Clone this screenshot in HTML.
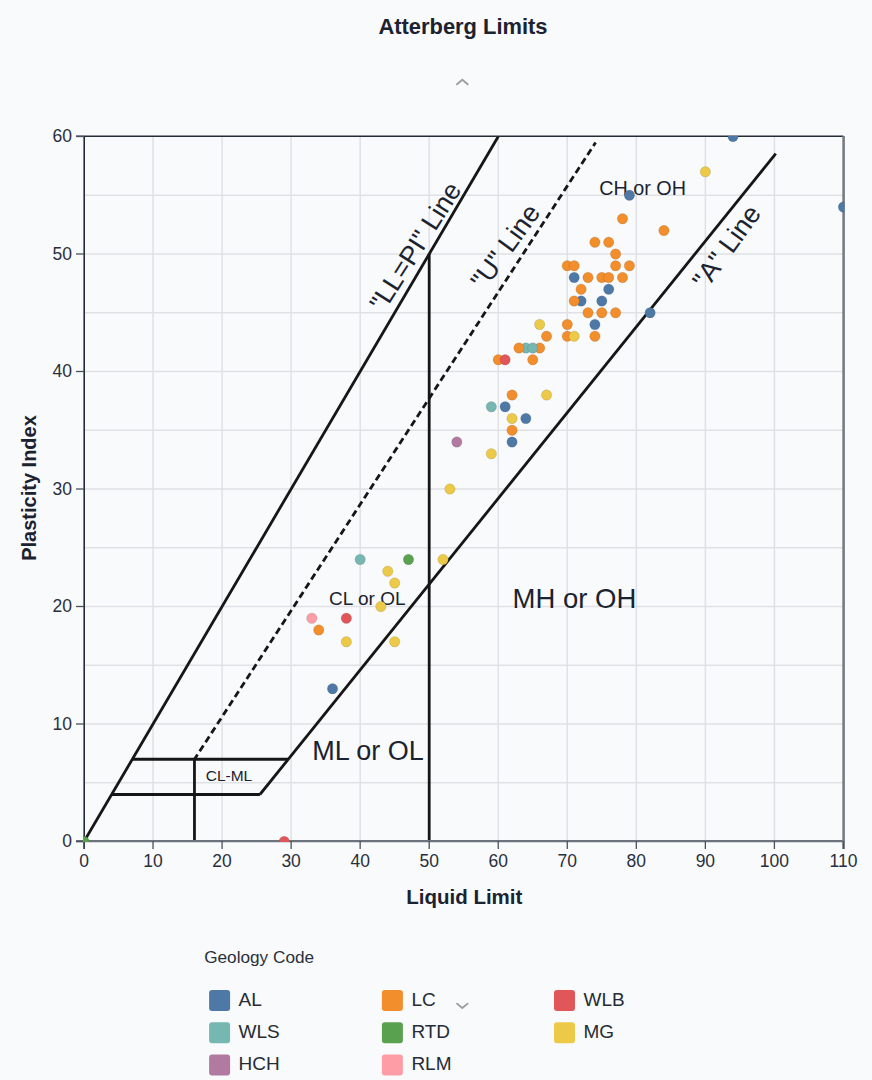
<!DOCTYPE html>
<html><head><meta charset="utf-8"><style>
html,body{margin:0;padding:0;background:#f8fafc;}
body{width:872px;height:1080px;overflow:hidden;}
svg{display:block;}
text{font-family:"Liberation Sans",sans-serif;}
</style></head><body>
<svg width="872" height="1080" viewBox="0 0 872 1080">
<g stroke="#e0e1e5" stroke-width="1.5"><line x1="153.04" y1="136" x2="153.04" y2="841"/><line x1="222.08" y1="136" x2="222.08" y2="841"/><line x1="291.12" y1="136" x2="291.12" y2="841"/><line x1="360.16" y1="136" x2="360.16" y2="841"/><line x1="429.20" y1="136" x2="429.20" y2="841"/><line x1="498.24" y1="136" x2="498.24" y2="841"/><line x1="567.28" y1="136" x2="567.28" y2="841"/><line x1="636.32" y1="136" x2="636.32" y2="841"/><line x1="705.36" y1="136" x2="705.36" y2="841"/><line x1="774.40" y1="136" x2="774.40" y2="841"/><line x1="84" y1="782.75" x2="843.4" y2="782.75"/><line x1="84" y1="724.00" x2="843.4" y2="724.00"/><line x1="84" y1="665.25" x2="843.4" y2="665.25"/><line x1="84" y1="606.50" x2="843.4" y2="606.50"/><line x1="84" y1="547.75" x2="843.4" y2="547.75"/><line x1="84" y1="489.00" x2="843.4" y2="489.00"/><line x1="84" y1="430.25" x2="843.4" y2="430.25"/><line x1="84" y1="371.50" x2="843.4" y2="371.50"/><line x1="84" y1="312.75" x2="843.4" y2="312.75"/><line x1="84" y1="254.00" x2="843.4" y2="254.00"/><line x1="84" y1="195.25" x2="843.4" y2="195.25"/></g>
<defs><clipPath id="pc"><rect x="84" y="136" width="759.4" height="705"/></clipPath></defs>
<g clip-path="url(#pc)" stroke="#161616" stroke-width="2.8" fill="none"><line x1="84.00" y1="841.50" x2="498.24" y2="136.50" /><line x1="429.20" y1="841.50" x2="429.20" y2="254.00" /><line x1="194.46" y1="841.50" x2="194.46" y2="759.25" /><line x1="132.33" y1="759.25" x2="288.28" y2="759.25" /><line x1="111.62" y1="794.50" x2="259.91" y2="794.50" /><line x1="259.91" y1="794.50" x2="775.78" y2="153.58" /><line x1="194.46" y1="759.25" x2="595.59" y2="142.49" stroke-dasharray="6.8 3.977" stroke-dashoffset="1.18"/></g>
<g fill="#1b2230" font-family="Liberation Sans, sans-serif"><text x="642.6" y="194.6" font-size="19.8" text-anchor="middle">CH or OH</text><text x="367.3" y="605.2" font-size="19" text-anchor="middle">CL or OL</text><text x="574.4" y="608.2" font-size="27.5" text-anchor="middle">MH or OH</text><text x="368" y="760.3" font-size="27" text-anchor="middle">ML or OL</text><text x="229" y="781" font-size="15.5" text-anchor="middle">CL-ML</text><text x="383.7" y="313" transform="rotate(-57.5 383.7 313)" font-size="26.5">"LL=PI" Line</text><text x="484.3" y="291.3" transform="rotate(-54 484.3 291.3)" font-size="27">"U" Line</text><text x="705.9" y="291" transform="rotate(-54 705.9 291)" font-size="27">"A" Line</text></g>
<line x1="76" y1="136.3" x2="843.4" y2="136.3" stroke="#242b38" stroke-width="1.4"/><line x1="84.2" y1="136" x2="84.2" y2="849" stroke="#242b38" stroke-width="1.6"/><line x1="76" y1="841.2" x2="844.4" y2="841.2" stroke="#6d737c" stroke-width="2.2"/><line x1="843.6" y1="136" x2="843.6" y2="849" stroke="#777c84" stroke-width="2.6"/><line x1="76" y1="841.50" x2="84" y2="841.50" stroke="#4b515b" stroke-width="1.3"/><line x1="76" y1="724.00" x2="84" y2="724.00" stroke="#4b515b" stroke-width="1.3"/><line x1="76" y1="606.50" x2="84" y2="606.50" stroke="#4b515b" stroke-width="1.3"/><line x1="76" y1="489.00" x2="84" y2="489.00" stroke="#4b515b" stroke-width="1.3"/><line x1="76" y1="371.50" x2="84" y2="371.50" stroke="#4b515b" stroke-width="1.3"/><line x1="76" y1="254.00" x2="84" y2="254.00" stroke="#4b515b" stroke-width="1.3"/><line x1="76" y1="136.50" x2="84" y2="136.50" stroke="#4b515b" stroke-width="1.3"/><line x1="84.00" y1="841" x2="84.00" y2="849" stroke="#4b515b" stroke-width="1.3"/><line x1="153.04" y1="841" x2="153.04" y2="849" stroke="#4b515b" stroke-width="1.3"/><line x1="222.08" y1="841" x2="222.08" y2="849" stroke="#4b515b" stroke-width="1.3"/><line x1="291.12" y1="841" x2="291.12" y2="849" stroke="#4b515b" stroke-width="1.3"/><line x1="360.16" y1="841" x2="360.16" y2="849" stroke="#4b515b" stroke-width="1.3"/><line x1="429.20" y1="841" x2="429.20" y2="849" stroke="#4b515b" stroke-width="1.3"/><line x1="498.24" y1="841" x2="498.24" y2="849" stroke="#4b515b" stroke-width="1.3"/><line x1="567.28" y1="841" x2="567.28" y2="849" stroke="#4b515b" stroke-width="1.3"/><line x1="636.32" y1="841" x2="636.32" y2="849" stroke="#4b515b" stroke-width="1.3"/><line x1="705.36" y1="841" x2="705.36" y2="849" stroke="#4b515b" stroke-width="1.3"/><line x1="774.40" y1="841" x2="774.40" y2="849" stroke="#4b515b" stroke-width="1.3"/><line x1="843.44" y1="841" x2="843.44" y2="849" stroke="#4b515b" stroke-width="1.3"/>
<defs><clipPath id="pc2"><rect x="83" y="136" width="761.4" height="706"/></clipPath></defs>
<g clip-path="url(#pc2)"><circle cx="84.00" cy="841.50" r="5.2" fill="#59a14f" stroke="rgba(40,40,40,0.18)" stroke-width="0.7"/><circle cx="284.22" cy="841.50" r="5.2" fill="#e15759" stroke="rgba(40,40,40,0.18)" stroke-width="0.7"/><circle cx="332.54" cy="688.75" r="5.2" fill="#4e79a7" stroke="rgba(40,40,40,0.18)" stroke-width="0.7"/><circle cx="311.83" cy="618.25" r="5.2" fill="#ff9da7" stroke="rgba(40,40,40,0.18)" stroke-width="0.7"/><circle cx="346.35" cy="618.25" r="5.2" fill="#e15759" stroke="rgba(40,40,40,0.18)" stroke-width="0.7"/><circle cx="318.74" cy="630.00" r="5.2" fill="#f28e2b" stroke="rgba(40,40,40,0.18)" stroke-width="0.7"/><circle cx="346.35" cy="641.75" r="5.2" fill="#edc948" stroke="rgba(40,40,40,0.18)" stroke-width="0.7"/><circle cx="394.68" cy="641.75" r="5.2" fill="#edc948" stroke="rgba(40,40,40,0.18)" stroke-width="0.7"/><circle cx="380.87" cy="606.50" r="5.2" fill="#edc948" stroke="rgba(40,40,40,0.18)" stroke-width="0.7"/><circle cx="394.68" cy="583.00" r="5.2" fill="#edc948" stroke="rgba(40,40,40,0.18)" stroke-width="0.7"/><circle cx="387.78" cy="571.25" r="5.2" fill="#edc948" stroke="rgba(40,40,40,0.18)" stroke-width="0.7"/><circle cx="360.16" cy="559.50" r="5.2" fill="#76b7b2" stroke="rgba(40,40,40,0.18)" stroke-width="0.7"/><circle cx="408.49" cy="559.50" r="5.2" fill="#59a14f" stroke="rgba(40,40,40,0.18)" stroke-width="0.7"/><circle cx="443.01" cy="559.50" r="5.2" fill="#edc948" stroke="rgba(40,40,40,0.18)" stroke-width="0.7"/><circle cx="449.91" cy="489.00" r="5.2" fill="#edc948" stroke="rgba(40,40,40,0.18)" stroke-width="0.7"/><circle cx="456.82" cy="442.00" r="5.2" fill="#b07aa1" stroke="rgba(40,40,40,0.18)" stroke-width="0.7"/><circle cx="491.34" cy="453.75" r="5.2" fill="#edc948" stroke="rgba(40,40,40,0.18)" stroke-width="0.7"/><circle cx="512.05" cy="442.00" r="5.2" fill="#4e79a7" stroke="rgba(40,40,40,0.18)" stroke-width="0.7"/><circle cx="512.05" cy="430.25" r="5.2" fill="#f28e2b" stroke="rgba(40,40,40,0.18)" stroke-width="0.7"/><circle cx="512.05" cy="418.50" r="5.2" fill="#edc948" stroke="rgba(40,40,40,0.18)" stroke-width="0.7"/><circle cx="525.86" cy="418.50" r="5.2" fill="#4e79a7" stroke="rgba(40,40,40,0.18)" stroke-width="0.7"/><circle cx="491.34" cy="406.75" r="5.2" fill="#76b7b2" stroke="rgba(40,40,40,0.18)" stroke-width="0.7"/><circle cx="505.14" cy="406.75" r="5.2" fill="#4e79a7" stroke="rgba(40,40,40,0.18)" stroke-width="0.7"/><circle cx="512.05" cy="395.00" r="5.2" fill="#f28e2b" stroke="rgba(40,40,40,0.18)" stroke-width="0.7"/><circle cx="546.57" cy="395.00" r="5.2" fill="#edc948" stroke="rgba(40,40,40,0.18)" stroke-width="0.7"/><circle cx="498.24" cy="359.75" r="5.2" fill="#f28e2b" stroke="rgba(40,40,40,0.18)" stroke-width="0.7"/><circle cx="505.14" cy="359.75" r="5.2" fill="#e15759" stroke="rgba(40,40,40,0.18)" stroke-width="0.7"/><circle cx="539.66" cy="348.00" r="5.2" fill="#f28e2b" stroke="rgba(40,40,40,0.18)" stroke-width="0.7"/><circle cx="532.76" cy="359.75" r="5.2" fill="#f28e2b" stroke="rgba(40,40,40,0.18)" stroke-width="0.7"/><circle cx="525.86" cy="348.00" r="5.2" fill="#76b7b2" stroke="rgba(40,40,40,0.18)" stroke-width="0.7"/><circle cx="532.76" cy="348.00" r="5.2" fill="#76b7b2" stroke="rgba(40,40,40,0.18)" stroke-width="0.7"/><circle cx="518.95" cy="348.00" r="5.2" fill="#f28e2b" stroke="rgba(40,40,40,0.18)" stroke-width="0.7"/><circle cx="546.57" cy="336.25" r="5.2" fill="#f28e2b" stroke="rgba(40,40,40,0.18)" stroke-width="0.7"/><circle cx="567.28" cy="336.25" r="5.2" fill="#f28e2b" stroke="rgba(40,40,40,0.18)" stroke-width="0.7"/><circle cx="574.18" cy="336.25" r="5.2" fill="#edc948" stroke="rgba(40,40,40,0.18)" stroke-width="0.7"/><circle cx="594.90" cy="336.25" r="5.2" fill="#f28e2b" stroke="rgba(40,40,40,0.18)" stroke-width="0.7"/><circle cx="539.66" cy="324.50" r="5.2" fill="#edc948" stroke="rgba(40,40,40,0.18)" stroke-width="0.7"/><circle cx="567.28" cy="324.50" r="5.2" fill="#f28e2b" stroke="rgba(40,40,40,0.18)" stroke-width="0.7"/><circle cx="594.90" cy="324.50" r="5.2" fill="#4e79a7" stroke="rgba(40,40,40,0.18)" stroke-width="0.7"/><circle cx="587.99" cy="312.75" r="5.2" fill="#f28e2b" stroke="rgba(40,40,40,0.18)" stroke-width="0.7"/><circle cx="601.80" cy="312.75" r="5.2" fill="#f28e2b" stroke="rgba(40,40,40,0.18)" stroke-width="0.7"/><circle cx="615.61" cy="312.75" r="5.2" fill="#f28e2b" stroke="rgba(40,40,40,0.18)" stroke-width="0.7"/><circle cx="650.13" cy="312.75" r="5.2" fill="#4e79a7" stroke="rgba(40,40,40,0.18)" stroke-width="0.7"/><circle cx="581.09" cy="301.00" r="5.2" fill="#4e79a7" stroke="rgba(40,40,40,0.18)" stroke-width="0.7"/><circle cx="574.18" cy="301.00" r="5.2" fill="#f28e2b" stroke="rgba(40,40,40,0.18)" stroke-width="0.7"/><circle cx="601.80" cy="301.00" r="5.2" fill="#4e79a7" stroke="rgba(40,40,40,0.18)" stroke-width="0.7"/><circle cx="581.09" cy="289.25" r="5.2" fill="#f28e2b" stroke="rgba(40,40,40,0.18)" stroke-width="0.7"/><circle cx="608.70" cy="289.25" r="5.2" fill="#4e79a7" stroke="rgba(40,40,40,0.18)" stroke-width="0.7"/><circle cx="574.18" cy="277.50" r="5.2" fill="#4e79a7" stroke="rgba(40,40,40,0.18)" stroke-width="0.7"/><circle cx="587.99" cy="277.50" r="5.2" fill="#f28e2b" stroke="rgba(40,40,40,0.18)" stroke-width="0.7"/><circle cx="601.80" cy="277.50" r="5.2" fill="#f28e2b" stroke="rgba(40,40,40,0.18)" stroke-width="0.7"/><circle cx="608.70" cy="277.50" r="5.2" fill="#f28e2b" stroke="rgba(40,40,40,0.18)" stroke-width="0.7"/><circle cx="622.51" cy="277.50" r="5.2" fill="#f28e2b" stroke="rgba(40,40,40,0.18)" stroke-width="0.7"/><circle cx="567.28" cy="265.75" r="5.2" fill="#f28e2b" stroke="rgba(40,40,40,0.18)" stroke-width="0.7"/><circle cx="574.18" cy="265.75" r="5.2" fill="#f28e2b" stroke="rgba(40,40,40,0.18)" stroke-width="0.7"/><circle cx="615.61" cy="265.75" r="5.2" fill="#f28e2b" stroke="rgba(40,40,40,0.18)" stroke-width="0.7"/><circle cx="629.42" cy="265.75" r="5.2" fill="#f28e2b" stroke="rgba(40,40,40,0.18)" stroke-width="0.7"/><circle cx="615.61" cy="254.00" r="5.2" fill="#f28e2b" stroke="rgba(40,40,40,0.18)" stroke-width="0.7"/><circle cx="594.90" cy="242.25" r="5.2" fill="#f28e2b" stroke="rgba(40,40,40,0.18)" stroke-width="0.7"/><circle cx="608.70" cy="242.25" r="5.2" fill="#f28e2b" stroke="rgba(40,40,40,0.18)" stroke-width="0.7"/><circle cx="663.94" cy="230.50" r="5.2" fill="#f28e2b" stroke="rgba(40,40,40,0.18)" stroke-width="0.7"/><circle cx="622.51" cy="218.75" r="5.2" fill="#f28e2b" stroke="rgba(40,40,40,0.18)" stroke-width="0.7"/><circle cx="629.42" cy="195.25" r="5.2" fill="#4e79a7" stroke="rgba(40,40,40,0.18)" stroke-width="0.7"/><circle cx="705.36" cy="171.75" r="5.2" fill="#edc948" stroke="rgba(40,40,40,0.18)" stroke-width="0.7"/><circle cx="732.98" cy="136.50" r="5.2" fill="#4e79a7" stroke="rgba(40,40,40,0.18)" stroke-width="0.7"/><circle cx="843.44" cy="207.00" r="5.2" fill="#4e79a7" stroke="rgba(40,40,40,0.18)" stroke-width="0.7"/></g>
<g fill="#2a303b" font-family="Liberation Sans, sans-serif" font-size="17.5"><text x="72" y="847.10" text-anchor="end">0</text><text x="72" y="729.60" text-anchor="end">10</text><text x="72" y="612.10" text-anchor="end">20</text><text x="72" y="494.60" text-anchor="end">30</text><text x="72" y="377.10" text-anchor="end">40</text><text x="72" y="259.60" text-anchor="end">50</text><text x="72" y="142.10" text-anchor="end">60</text><text x="84.00" y="867" text-anchor="middle">0</text><text x="153.04" y="867" text-anchor="middle">10</text><text x="222.08" y="867" text-anchor="middle">20</text><text x="291.12" y="867" text-anchor="middle">30</text><text x="360.16" y="867" text-anchor="middle">40</text><text x="429.20" y="867" text-anchor="middle">50</text><text x="498.24" y="867" text-anchor="middle">60</text><text x="567.28" y="867" text-anchor="middle">70</text><text x="636.32" y="867" text-anchor="middle">80</text><text x="705.36" y="867" text-anchor="middle">90</text><text x="774.40" y="867" text-anchor="middle">100</text><text x="843.44" y="867" text-anchor="middle">110</text></g>
<text x="464.3" y="904.2" text-anchor="middle" font-weight="bold" font-size="20.5" fill="#1b2230" font-family="Liberation Sans, sans-serif">Liquid Limit</text>
<text x="36.3" y="488" transform="rotate(-90 36.3 488)" text-anchor="middle" font-weight="bold" font-size="20" fill="#1b2230" font-family="Liberation Sans, sans-serif">Plasticity Index</text>
<text x="463" y="33.5" text-anchor="middle" font-weight="bold" font-size="21.9" fill="#1b2230" font-family="Liberation Sans, sans-serif">Atterberg Limits</text>
<path d="M457 84.3 L462.3 79.7 L467.7 84.3" stroke="#9c9c9c" stroke-width="1.8" stroke-linejoin="round" stroke-linecap="round" fill="none"/>
<path d="M457 1003.6 L462.3 1008 L467.7 1003.6" stroke="#9c9c9c" stroke-width="1.8" stroke-linejoin="round" stroke-linecap="round" fill="none"/>
<g font-family="Liberation Sans, sans-serif"><text x="204.2" y="962.9" font-size="17.2" fill="#2a303b">Geology Code</text><rect x="209.1" y="990" width="21" height="21" rx="3" fill="#4e79a7"/><text x="238.6" y="1005.5" font-size="19" fill="#262b35">AL</text><rect x="381.9" y="990" width="21" height="21" rx="3" fill="#f28e2b"/><text x="411.4" y="1005.5" font-size="19" fill="#262b35">LC</text><rect x="554" y="990" width="21" height="21" rx="3" fill="#e15759"/><text x="583.5" y="1005.5" font-size="19" fill="#262b35">WLB</text><rect x="209.1" y="1022.2" width="21" height="21" rx="3" fill="#76b7b2"/><text x="238.6" y="1037.7" font-size="19" fill="#262b35">WLS</text><rect x="381.9" y="1022.2" width="21" height="21" rx="3" fill="#59a14f"/><text x="411.4" y="1037.7" font-size="19" fill="#262b35">RTD</text><rect x="554" y="1022.2" width="21" height="21" rx="3" fill="#edc948"/><text x="583.5" y="1037.7" font-size="19" fill="#262b35">MG</text><rect x="209.1" y="1054.4" width="21" height="21" rx="3" fill="#b07aa1"/><text x="238.6" y="1069.9" font-size="19" fill="#262b35">HCH</text><rect x="381.9" y="1054.4" width="21" height="21" rx="3" fill="#ff9da7"/><text x="411.4" y="1069.9" font-size="19" fill="#262b35">RLM</text></g>
</svg>
</body></html>
